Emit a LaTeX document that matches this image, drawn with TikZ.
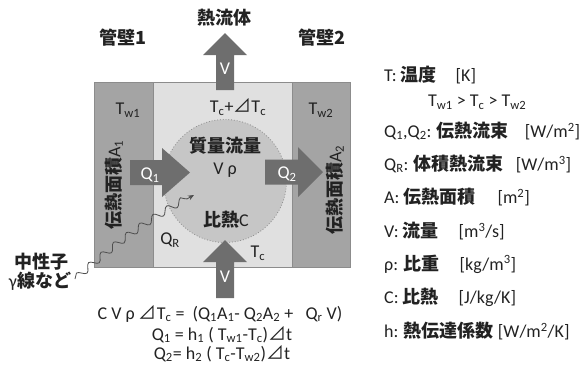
\documentclass[tikz,border=0pt]{standalone}
\usepackage{fontspec}
\setmainfont{Carlito}
\newfontfamily\jpfont{Noto Sans CJK JP}
\usetikzlibrary{decorations.pathmorphing,arrows.meta}
\newcommand\J[1]{{\jpfont\bfseries #1}}
\newcommand\sbs[1]{\textsubscript{#1}}
\newcommand\spp[1]{\textsuperscript{#1}}
\newcommand\tri{\raisebox{0pt}[0.68em][0pt]{\jpfont ⊿}}
\definecolor{wallgray}{HTML}{A4A4A4}
\definecolor{fluidgray}{HTML}{E0E0E0}
\definecolor{ballgray}{HTML}{C6C6C6}
\definecolor{arrowgray}{HTML}{6E6E6E}
\definecolor{edgegray}{HTML}{8C8C8C}
\definecolor{ink}{HTML}{222222}
\begin{document}
\begin{tikzpicture}[x=1pt,y=-1pt,
  txt/.style={font=\fontsize{18}{21}\selectfont, text=ink, inner sep=0pt},
  eqtxt/.style={font=\fontsize{18}{18.5}\selectfont, text=ink, inner sep=0pt},
  wtxt/.style={font=\fontsize{18}{21}\selectfont, text=white, inner sep=0pt},
  leg/.style={txt, anchor=west},
  wall/.style={fill=wallgray, draw=edgegray, line width=0.8pt},
  fluid/.style={fill=fluidgray, draw=edgegray, line width=0.8pt},
  bigarrow/.style={fill=arrowgray, draw=none},
  wave/.style={draw=ink!80, line width=0.8pt, decorate,
    decoration={snake, amplitude=3.5pt, segment length=16pt, post length=5pt},
    -{Stealth[length=6pt,width=5pt]}}]
\useasboundingbox (0,0) rectangle (584,376);
% boxes
\path[fluid] (153,82) rectangle (292,267);
\path[wall] (94,82) rectangle (153,267);
\path[wall] (292,82) rectangle (350,267);
% ball
\node[circle, minimum size=123pt, inner sep=0pt, fill=ballgray,
  draw=edgegray, dotted, line width=0.8pt] (ball) at (225,181) {};
% arrows
\path[bigarrow] (216,90) -- (216,55) -- (203,55) -- (225,33) -- (247,55) -- (234,55) -- (234,90) -- cycle;
\path[bigarrow] (216,298) -- (216,262) -- (203,262) -- (225,240) -- (247,262) -- (234,262) -- (234,298) -- cycle;
\path[bigarrow] (130,160) -- (162,160) -- (162,148) -- (190,172.5) -- (162,197) -- (162,185) -- (130,185) -- cycle;
\path[bigarrow] (265,159.5) -- (298,159.5) -- (298,147) -- (323,172) -- (298,197) -- (298,184.5) -- (265,184.5) -- cycle;
% labels in arrows
\node[wtxt] (vtop) at (225,69) {V};
\node[wtxt] (vbot) at (225,277) {V};
\node[wtxt] (q1) at (150,175) {Q\sbs{1}};
\node[wtxt] (q2) at (287,174) {Q\sbs{2}};
% texts
\node[txt] (fluidname) at (224,18) {\J{熱流体}};
\node[txt] (wall1) at (123,38) {\J{管壁1}};
\node[txt] (wall2) at (322,38) {\J{管壁2}};
\node[txt] (tw1) at (128,110) {T\sbs{w1}};
\node[txt] (tw2) at (321,110) {T\sbs{w2}};
\node[txt] (tout) at (238,108) {T\sbs{c}+\tri T\sbs{c}};
\node[txt] (mass) at (225,146) {\J{質量流量}};
\node[txt] (vrho) at (225,170) {V ρ};
\node[txt] (heat) at (226,220) {\J{比熱}C};
\node[txt] (qr) at (170,240) {Q\sbs{R}};
\node[txt] (tc) at (258,253) {T\sbs{c}};
\node[txt, rotate=90] (a1) at (114,185) {\J{伝熱面積}A\sbs{1}};
\node[txt, rotate=90] (a2) at (335,190) {\J{伝熱面積}A\sbs{2}};
\node[txt] (neu) at (41,262) {\J{中性子}};
\node[txt] (gam) at (40,281) {γ\J{線など}};
% radiation
\coordinate (rayS) at (75,279);
\coordinate (rayE) at (194,195);
\path[wave] (rayS) to[bend left=6] (rayE);
% equations
\node[eqtxt] (eq1) at (220,314) {C V ρ \tri T\sbs{c} =\ \ (Q\sbs{1}A\sbs{1}- Q\sbs{2}A\sbs{2} +\ \ \ Q\sbs{r} V)};
\node[eqtxt] (eq2) at (222,335) {Q\sbs{1} = h\sbs{1} ( T\sbs{w1}-T\sbs{c})\tri t};
\node[eqtxt] (eq3) at (222,354) {Q\sbs{2}= h\sbs{2} ( T\sbs{c}-T\sbs{w2})\tri t};
% legend
\node[leg] (l1) at (384,75) {T: \J{温度}\hspace{19pt}[K]};
\node[leg] (l2) at (428,102) {T\sbs{w1} > T\sbs{c} > T\sbs{w2}};
\node[leg] (l3) at (384,131) {Q\sbs{1},Q\sbs{2}: \J{伝熱流束}\hspace{16pt}[W/m\spp{2}]};
\node[leg] (l4) at (384,164) {Q\sbs{R}: \J{体積熱流束}\hspace{12pt}[W/m\spp{3}]};
\node[leg] (l5) at (384,197) {A: \J{伝熱面積}\hspace{22pt}[m\spp{2}]};
\node[leg] (l6) at (384,231) {V: \J{流量}\hspace{20pt}[m\spp{3}/s]};
\node[leg] (l7) at (384,264) {ρ: \J{比重}\hspace{20pt}[kg/m\spp{3}]};
\node[leg] (l8) at (384,297) {C: \J{比熱}\hspace{20pt}[J/kg/K]};
\node[leg] (l9) at (384,331) {h: \J{熱伝達係数} [W/m\spp{2}/K]};
\end{tikzpicture}
\end{document}
